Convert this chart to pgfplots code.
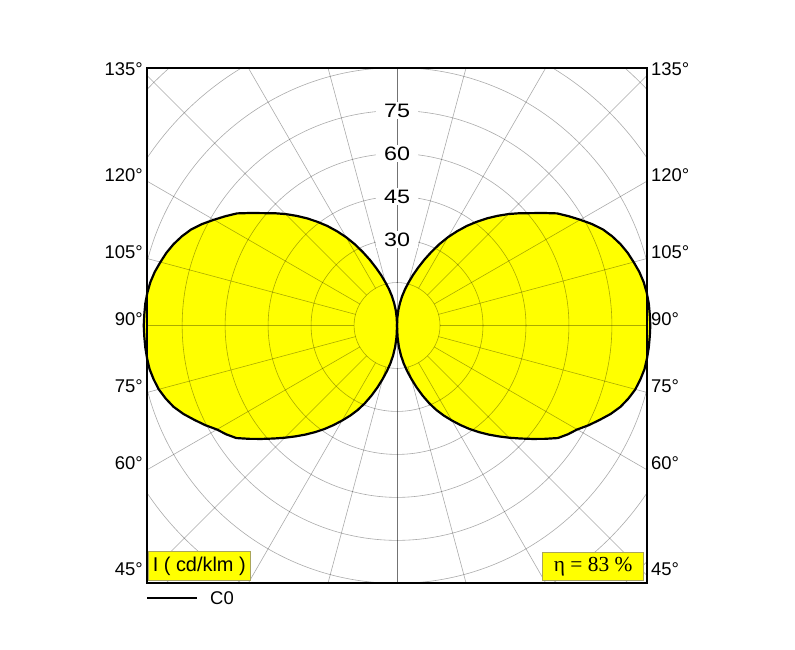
\documentclass[border=0pt]{standalone}
\usepackage{pgfplots}
\pgfplotsset{compat=1.18}
\usepackage{pgfplotstable}
\usepackage{fontspec}
\setmainfont{Liberation Sans}
\newfontfamily\seriffont{Liberation Serif}
\newfontfamily\widesans[FakeStretch=1.2]{Liberation Sans}
\newcommand\lab{\fontsize{18.5}{21}\selectfont}
\newcommand\rlab{\widesans\fontsize{19.5}{22}\selectfont}

% gamma (deg, 0 = down) , I (cd/klm)  -- C0 plane, mirrored to C180
\pgfplotstableread{
g I
0 0
2.5 4.0
5 7.5
7.5 10.6
10 13.5
12.5 16.3
15 19.3
17.5 22.6
20 26.0
22.5 29.4
25 32.6
27.5 35.5
30 38.3
32.5 41.2
35 44.1
37.5 46.9
40 49.7
42.5 52.5
45 55.4
47.5 58.4
50 61.6
52.5 65.0
55 68.5
57.5 70.7
60 72.6
62.5 75.4
65 78.0
67.5 80.7
70 83.0
72.5 84.7
75 86.1
77.5 87.0
80 87.7
82.5 88.0
85 88.2
87.5 88.3
90 88.4
92.5 88.3
95 88.2
97.5 87.9
100 87.4
102.5 86.6
105 85.5
107.5 84.4
110 83.0
112.5 81.3
115 79.3
117.5 76.7
120 73.8
122.5 71.0
125 68.2
127.5 64.5
130 61.0
132.5 58.0
135 55.0
137.5 51.9
140 48.8
142.5 45.6
145 42.4
147.5 39.0
150 35.6
152.5 32.0
155 28.3
157.5 24.8
160 21.4
162.5 18.4
165 15.5
167.5 13.0
170 10.5
172.5 8.0
175 5.5
177.5 2.8
180 0
}\lobe

\definecolor{lobe}{RGB}{255,255,0}
\definecolor{boxedge}{RGB}{170,165,90}
\tikzset{gridc/.style={black, opacity=0.33, line width=0.6bp}}

\begin{document}
\begin{tikzpicture}
\begin{axis}[
  name=ax, at={(0,0)}, anchor=south west,
  x=2.865bp, y=2.865bp,
  xmin=-87.27, xmax=87.27, ymin=-89.88, ymax=89.88,
  axis lines=box, xtick=\empty, ytick=\empty,
  axis line style={line width=2bp, black},
  clip=false,
  axis on top,
]
% fills
\addplot[fill=lobe, draw=none] table[x expr={\thisrow{I}*sin(\thisrow{g})}, y expr={-\thisrow{I}*cos(\thisrow{g})}] {\lobe};
\addplot[fill=lobe, draw=none] table[x expr={-\thisrow{I}*sin(\thisrow{g})}, y expr={-\thisrow{I}*cos(\thisrow{g})}] {\lobe};
% polar grid
\begin{scope}
\clip (rel axis cs:0,0) rectangle (rel axis cs:1,1);
\pgfplotsinvokeforeach{15,30,...,120}{
  \draw[gridc] (axis cs:0,0) circle[radius=#1];
}
\pgfplotsinvokeforeach{0,15,...,345}{
  \draw[gridc] (axis cs:{15*cos(#1)},{15*sin(#1)}) -- (axis cs:{130*cos(#1)},{130*sin(#1)});
}
\draw[gridc] (axis cs:0,-95) -- (axis cs:0,95);
\end{scope}
\pgfplotsinvokeforeach{30,45,60,75}{
  \node[fill=white, inner xsep=8bp, inner ysep=1.5bp, font=\rlab] at (axis cs:0,#1) {#1};
}
% outlines
\addplot[black, line width=2.2bp, line join=round] table[x expr={\thisrow{I}*sin(\thisrow{g})}, y expr={-\thisrow{I}*cos(\thisrow{g})}] {\lobe};
\addplot[black, line width=2.2bp, line join=round] table[x expr={-\thisrow{I}*sin(\thisrow{g})}, y expr={-\thisrow{I}*cos(\thisrow{g})}] {\lobe};
\end{axis}

% angle labels
\foreach \a/\y in {135/507.3, 120/401.6, 105/324.3, 90/257.3, 75/190.3, 60/113.0, 45/7.3}{
  \node[anchor=base east, inner sep=0, font=\lab] at (-4bp,\y bp) {\a°};
  \node[anchor=base west, inner sep=0, font=\lab] at (504bp,\y bp) {\a°};
}
% info boxes
\node[anchor=south west, fill=lobe, draw=boxedge, line width=0.6bp, inner xsep=4.5bp, inner ysep=0pt, minimum height=29bp, font={\fontsize{20}{22}\selectfont}] at (1bp,2bp) {I ( cd/klm )};
\node[anchor=south east, fill=lobe, draw=boxedge, line width=0.6bp, inner xsep=0pt, inner ysep=0pt, minimum height=28bp, minimum width=101bp, font={\seriffont\fontsize{21.5}{23}\selectfont}] at (497bp,2.5bp) {η = 83 \%};
% legend
\draw[line width=2bp] (0,-15.3bp) -- (50bp,-15.3bp);
\node[anchor=west, inner sep=0, font=\lab] at (63bp,-15.3bp) {C0};

\pgfresetboundingbox
\path (-147bp,-67bp) rectangle (648bp,583bp);
\end{tikzpicture}
\end{document}
